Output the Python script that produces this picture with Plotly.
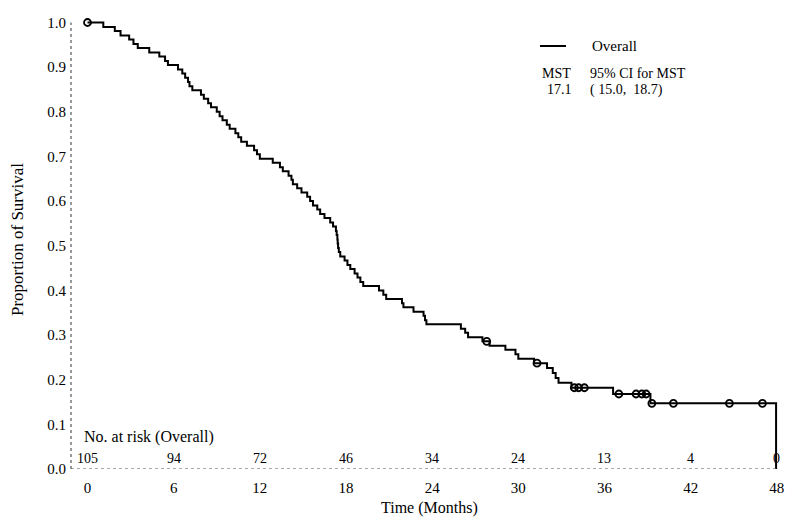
import plotly.graph_objects as go

# Kaplan-Meier step data (months, survival proportion after each event)
event_times = [0.0, 1.1, 1.9, 2.3, 2.9, 3.2, 3.5, 4.3, 5.0, 5.4, 5.6, 6.3, 6.6, 6.8, 7.0, 7.1,
               7.3, 7.9, 8.1, 8.4, 8.6, 9.0, 9.2, 9.4, 9.7, 9.9, 10.3, 10.5, 10.7, 11.1, 11.6,
               11.8, 12.0, 12.9, 13.4, 13.6, 14.0, 14.2, 14.3, 14.6, 14.9, 15.3, 15.5, 15.7,
               16.0, 16.2, 16.5, 16.9, 17.1, 17.3, 17.35, 17.4, 17.42, 17.45, 17.5, 17.6, 17.9,
               18.1, 18.3, 18.6, 18.8, 19.0, 19.2, 20.3, 20.6, 20.8, 21.9, 22.0, 22.7, 23.4,
               23.5, 23.6, 26.0, 26.3, 26.5, 27.5, 28.0, 29.1, 29.8, 30.0, 31.1, 32.0, 32.4,
               32.6, 32.8, 33.7, 36.6, 39.2, 47.95]
survival = [1.000, 0.990, 0.981, 0.971, 0.962, 0.952, 0.943, 0.933, 0.924, 0.914, 0.905, 0.895,
            0.886, 0.876, 0.867, 0.857, 0.848, 0.838, 0.829, 0.819, 0.810, 0.800, 0.790, 0.781,
            0.771, 0.762, 0.752, 0.743, 0.733, 0.724, 0.714, 0.705, 0.695, 0.686, 0.676, 0.667,
            0.657, 0.648, 0.638, 0.629, 0.619, 0.610, 0.600, 0.590, 0.581, 0.571, 0.562, 0.552,
            0.543, 0.533, 0.524, 0.514, 0.505, 0.495, 0.486, 0.476, 0.467, 0.457, 0.448, 0.438,
            0.429, 0.419, 0.410, 0.400, 0.390, 0.381, 0.371, 0.362, 0.352, 0.343, 0.333, 0.324,
            0.314, 0.305, 0.295, 0.286, 0.276, 0.267, 0.257, 0.247, 0.237, 0.226, 0.215, 0.204,
            0.193, 0.182, 0.168, 0.147, 0.000]

# Censored observations
censor_times = [0.0, 27.8, 31.3, 33.9, 34.2, 34.6, 37.0, 38.2, 38.6, 38.9, 39.3, 40.8, 44.7, 47.0]
censor_surv = [1.000, 0.286, 0.237, 0.182, 0.182, 0.182, 0.168, 0.168, 0.168, 0.168,
               0.147, 0.147, 0.147, 0.147]

# Number at risk table
risk_times = [0, 6, 12, 18, 24, 30, 36, 42, 48]
risk_counts = ["105", "94", "72", "46", "34", "24", "13", "4", "0"]

tick_vals_y = [0.0, 0.1, 0.2, 0.3, 0.4, 0.5, 0.6, 0.7, 0.8, 0.9, 1.0]
tick_text_y = ["0.0", "0.1", "0.2", "0.3", "0.4", "0.5", "0.6", "0.7", "0.8", "0.9", "1.0"]
tick_vals_x = [0, 6, 12, 18, 24, 30, 36, 42, 48]

FONT = "Liberation Serif"

fig = go.Figure()
fig.add_trace(go.Scatter(
    x=event_times, y=survival, mode="lines", line_shape="hv",
    line=dict(color="black", width=2), name="Overall", cliponaxis=False, showlegend=False,
))
fig.add_trace(go.Scatter(
    x=censor_times, y=censor_surv, mode="markers", showlegend=False,
    marker=dict(symbol="circle-open", size=7, color="black", line=dict(width=1.8)),
    cliponaxis=False,
))

annotations = []
for t, n in zip(risk_times, risk_counts):
    annotations.append(dict(x=t, y=0.023, xref="x", yref="y", text=n, showarrow=False,
                            font=dict(family=FONT, size=14, color="black"),
                            xanchor="center", yanchor="middle"))
annotations.append(dict(x=-0.38, y=0.0706, xref="x", yref="y", text="No. at risk (Overall)",
                        showarrow=False, font=dict(family=FONT, size=16, color="black"),
                        xanchor="left", yanchor="middle"))
W = 717.0
H = 457.0
def px(xp):
    return (xp - 71) / W
def py(yp):
    return (469 - yp) / H
annotations += [
    dict(x=px(590), y=py(46), xref="paper", yref="paper", text="Overall", showarrow=False,
         font=dict(family=FONT, size=15, color="black"), xanchor="left", yanchor="middle"),
    dict(x=px(540), y=py(74), xref="paper", yref="paper", text="MST", showarrow=False,
         font=dict(family=FONT, size=14, color="black"), xanchor="left", yanchor="middle"),
    dict(x=px(588), y=py(74), xref="paper", yref="paper", text="95% CI for MST", showarrow=False,
         font=dict(family=FONT, size=14, color="black"), xanchor="left", yanchor="middle"),
    dict(x=px(545), y=py(90), xref="paper", yref="paper", text="17.1", showarrow=False,
         font=dict(family=FONT, size=14, color="black"), xanchor="left", yanchor="middle"),
    dict(x=px(588), y=py(90), xref="paper", yref="paper", text="( 15.0,  18.7)", showarrow=False,
         font=dict(family=FONT, size=14, color="black"), xanchor="left", yanchor="middle"),
    dict(x=0.5, y=py(508), xref="paper", yref="paper", text="Time (Months)", showarrow=False,
         font=dict(family=FONT, size=16, color="black"), xanchor="center", yanchor="middle"),
    dict(x=px(17), y=py(240), xref="paper", yref="paper", text="Proportion of Survival",
         showarrow=False, textangle=-90,
         font=dict(family=FONT, size=17, color="black"), xanchor="center", yanchor="middle"),
]

shapes = [
    dict(type="line", xref="paper", yref="y", x0=0, x1=0, y0=0, y1=1.0,
         line=dict(color="#555555", width=1.2, dash="dot")),
    dict(type="line", xref="paper", yref="y", x0=0, x1=0.985, y0=0, y1=0,
         line=dict(color="#555555", width=1.2, dash="dot")),
    # legend key line
    dict(type="line", xref="paper", yref="paper", x0=px(540), x1=px(566), y0=py(46), y1=py(46),
         line=dict(color="black", width=2)),
]

# page body has an 8px margin, so the figure is shrunk and shifted to compensate
fig.update_layout(
    width=794, height=515,
    margin=dict(l=63, r=14, t=4, b=54, autoexpand=False),
    paper_bgcolor="white", plot_bgcolor="white",
    font=dict(family=FONT, size=14, color="black"),
    showlegend=False,
    annotations=annotations, shapes=shapes,
    xaxis=dict(range=[-1.15, 48.78], tickvals=tick_vals_x, showgrid=False, zeroline=False,
               showline=False, ticks="", ticklabelstandoff=8, automargin=False,
               tickfont=dict(family=FONT, size=15, color="black")),
    yaxis=dict(range=[0, 1.0235], tickvals=tick_vals_y, ticktext=tick_text_y, showgrid=False,
               zeroline=False, showline=False, ticks="", ticklabelstandoff=4, automargin=False,
               tickfont=dict(family=FONT, size=15, color="black")),
)

fig.write_html("out.html")
